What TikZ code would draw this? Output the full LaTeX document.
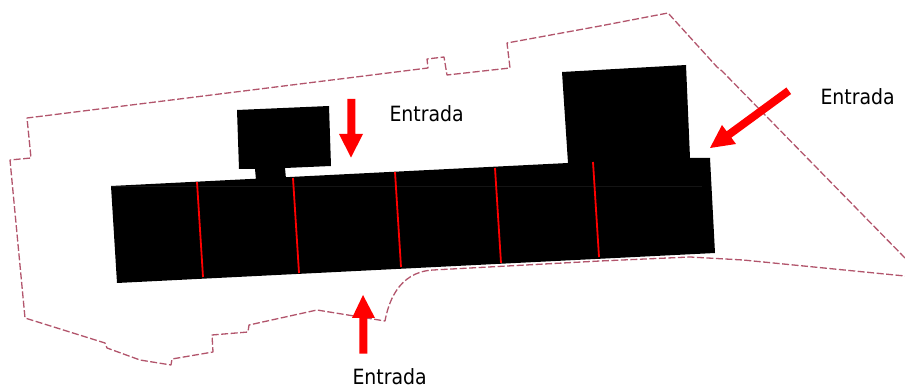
\documentclass[tikz,border=0pt]{standalone}
\usepackage{fontspec}
\setmainfont{DejaVu Sans Condensed}
\definecolor{limite}{RGB}{178,85,108}
\definecolor{seam}{RGB}{20,20,20}
\tikzset{
  limit/.style={draw=limite,line width=1.3pt,dash pattern=on 7pt off 2.5pt,line join=round},
  building/.style={fill=black,draw=none},
  divider/.style={draw=red,line width=1.8pt},
  redarrow/.style={fill=red,draw=none},
  label/.style={anchor=base west,inner sep=0pt,outer sep=0pt,font=\fontsize{21pt}{24pt}\selectfont,text=black}
}
\begin{document}
\begin{tikzpicture}[x=1pt,y=-1pt]
\useasboundingbox (0,0) rectangle (905,387);
% site boundary
\draw[limit] (905,258) -- (722,71) -- (717,67) -- (668,13) -- (600,26) -- (507,43) -- (510,68) -- (447,75) -- (444,57) -- (427,59) -- (428,68) -- (27,118) -- (31,158) -- (10,160) -- (25,318) -- (105,343) -- (107,348) -- (140,360) -- (171,365) -- (172,359) -- (213,352) -- (212,335) -- (248,332) -- (249,325) -- (317,310) -- (385,321) .. controls (388,305) and (397,272) .. (433,270) -- (600,261) -- (690,257) -- (743,260) -- (905,276);
% buildings
\fill[building] (111,186) -- (117,283) -- (715,253) -- (710,158) -- (690,158) -- (686,65) -- (562,72) -- (568,163) -- cycle;
\fill[building] (237,110) -- (329,106) -- (331,166) -- (285,168) -- (286,179) -- (256,180) -- (255,169) -- (239,169) -- cycle;
\draw[seam,line width=0.6pt] (111,186) -- (702,186);
% dividers
\draw[divider] (197,182) -- (203,277);
\draw[divider] (293,178) -- (299,273);
\draw[divider] (395,172) -- (401,267);
\draw[divider] (495,168) -- (501,263);
\draw[divider] (593,162) -- (599,257);
% arrows
\fill[redarrow] (347.3,99) -- (355.3,99) -- (355.3,134) -- (363,134) -- (351,157.5) -- (339,134) -- (347.3,134) -- cycle;
\fill[redarrow] (359.3,353.7) -- (367.3,353.7) -- (367.3,318) -- (375,318) -- (363,295) -- (352,318) -- (359.3,318) -- cycle;
\fill[redarrow] (786.4,87.5) -- (791.1,94) -- (731.35,137.7) -- (736,144) -- (710,148) -- (722,125) -- (726.65,131.3) -- cycle;
% labels
\node[label] (entradaA) at (389.5,122) {Entrada};
\node[label] (entradaB) at (820.5,105) {Entrada};
\node[label] (entradaC) at (352.5,384.5) {Entrada};
\end{tikzpicture}
\end{document}
